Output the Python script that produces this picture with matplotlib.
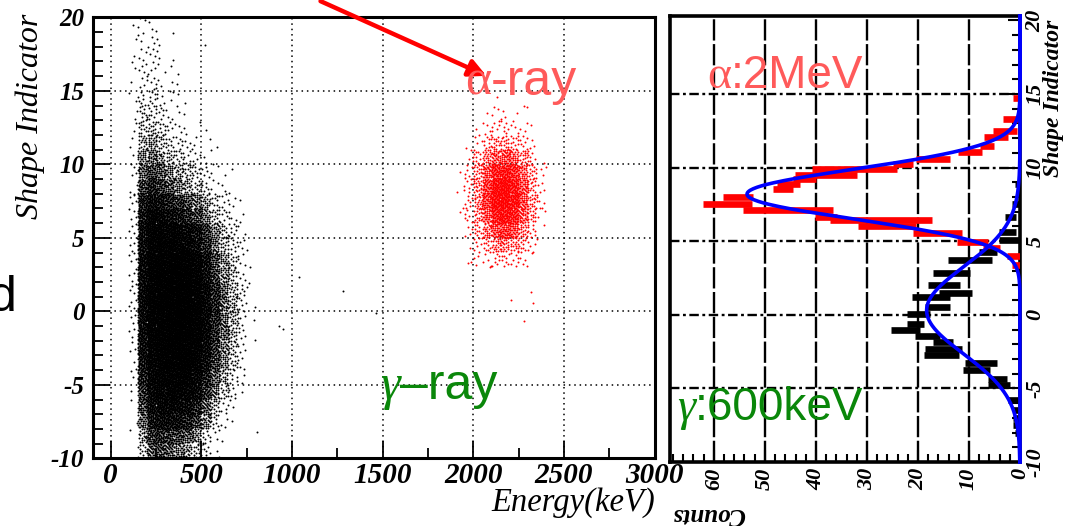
import numpy as np
import matplotlib
matplotlib.use("Agg")
import matplotlib.pyplot as plt
from matplotlib.patches import FancyArrowPatch
from matplotlib.ticker import MultipleLocator

# ---- scatter: event counts per (shape, energy) cell ----
# gamma band: energy columns of 50 keV from 100 to 800, shape rows of 1 from 20 down to -10
gamma_e_edges = list(range(100, 801, 50))
gamma_s_edges = list(range(20, -11, -1))
gamma_counts = [
    [1, 3, 2, 1, 0, 0, 0, 0, 0, 0, 0, 0, 0, 0],
    [1, 3, 2, 2, 1, 0, 0, 0, 0, 0, 0, 0, 0, 0],
    [1, 4, 4, 2, 1, 0, 0, 0, 0, 0, 0, 0, 0, 0],
    [2, 4, 4, 2, 1, 1, 0, 0, 0, 0, 0, 0, 0, 0],
    [1, 5, 5, 3, 2, 1, 0, 0, 0, 0, 0, 0, 0, 0],
    [2, 7, 7, 5, 2, 1, 1, 0, 0, 0, 0, 0, 0, 0],
    [2, 9, 10, 6, 3, 2, 1, 0, 0, 0, 0, 0, 0, 0],
    [2, 13, 15, 9, 5, 3, 2, 1, 1, 0, 0, 0, 0, 0],
    [2, 18, 22, 15, 10, 6, 4, 2, 1, 1, 0, 0, 0, 0],
    [3, 27, 33, 25, 15, 9, 6, 4, 2, 1, 0, 0, 0, 0],
    [3, 38, 50, 40, 28, 20, 14, 8, 5, 3, 1, 1, 0, 0],
    [3, 52, 70, 60, 42, 30, 21, 12, 7, 3, 2, 1, 0, 0],
    [4, 68, 95, 88, 72, 58, 45, 32, 20, 10, 5, 3, 1, 0],
    [4, 82, 125, 112, 98, 82, 65, 48, 30, 15, 7, 3, 2, 0],
    [4, 88, 135, 140, 135, 125, 110, 85, 55, 28, 14, 7, 2, 0],
    [4, 92, 145, 150, 145, 135, 120, 95, 65, 32, 16, 8, 3, 1],
    [4, 98, 148, 158, 162, 162, 152, 128, 88, 48, 24, 12, 4, 0],
    [4, 102, 152, 162, 168, 168, 158, 132, 92, 52, 26, 13, 4, 1],
    [4, 100, 150, 165, 170, 175, 170, 150, 110, 65, 35, 17, 6, 1],
    [4, 100, 150, 165, 170, 175, 170, 150, 110, 65, 35, 18, 6, 1],
    [3, 95, 145, 160, 170, 175, 170, 150, 110, 65, 35, 18, 5, 1],
    [3, 95, 145, 160, 170, 175, 170, 150, 110, 65, 35, 17, 5, 1],
    [3, 88, 138, 152, 162, 167, 162, 142, 98, 57, 29, 13, 4, 0],
    [2, 82, 132, 148, 158, 163, 158, 138, 92, 53, 26, 12, 4, 0],
    [2, 72, 122, 136, 146, 146, 136, 112, 72, 39, 17, 7, 2, 0],
    [1, 58, 108, 124, 134, 134, 124, 98, 58, 31, 13, 5, 1, 0],
    [1, 46, 92, 110, 116, 112, 96, 70, 38, 15, 5, 2, 0, 0],
    [1, 34, 78, 90, 94, 88, 74, 50, 27, 10, 3, 1, 0, 0],
    [1, 22, 54, 64, 60, 50, 38, 25, 9, 3, 1, 0, 0, 0],
    [0, 13, 36, 46, 40, 30, 22, 15, 6, 2, 0, 0, 0, 0],
]
gamma_out_e = [520, 1040, 1280, 930, 950, 1465, 805]
gamma_out_s = [18.1, 2.3, 1.4, -1.0, -1.2, -0.1, -8.2]

# alpha band: energy columns of 50 keV from 1900 to 2400, shape rows of 1 from 14 down to 3
alpha_e_edges = list(range(1900, 2401, 50))
alpha_s_edges = list(range(14, 2, -1))
alpha_counts = [
    [0, 0, 0, 1, 3, 3, 1, 1, 0, 0],
    [0, 0, 1, 4, 6, 6, 4, 3, 1, 0],
    [0, 1, 4, 10, 14, 15, 12, 7, 3, 0],
    [0, 3, 10, 22, 35, 39, 31, 17, 7, 1],
    [1, 6, 17, 39, 63, 70, 56, 31, 13, 3],
    [1, 7, 21, 49, 81, 91, 73, 39, 15, 4],
    [1, 7, 21, 49, 84, 95, 77, 42, 17, 4],
    [1, 6, 17, 39, 67, 77, 63, 35, 14, 3],
    [0, 4, 11, 25, 42, 49, 39, 21, 8, 1],
    [0, 1, 6, 11, 20, 22, 18, 10, 4, 1],
    [0, 1, 3, 4, 7, 8, 7, 4, 1, 0],
]
alpha_out_e = [1970, 2095, 2210, 2320, 2330, 2280, 2130, 2295]
alpha_out_s = [3.3, 3.1, 0.8, 1.3, 0.55, -0.65, 14.6, 13.9]

# ---- projections: each bar spans a count range at one shape value ----
alpha_bar_s = [14.75, 13.3, 12.5, 12.06, 11.5, 11.04, 10.6, 10.25, 9.9, 9.5,
               9.2, 8.9, 8.55, 8.03, 7.53, 7.12, 6.67, 6.44, 6.03, 5.58, 4.97,
               4.55, 4.0, 3.4]
alpha_lo = [0, 0.3, 0.65, 2.3, 5.0, 7.5, 13.7, 20.9, 24.2, 32.0, 39.9, 43.1,
            44.4, 52.3, 52.6, 36.6, 35.9, 17.3, 20.3, 11.4, 6.2, 3.9, 0, 0]
alpha_hi = [1.3, 3.3, 5.2, 7.0, 7.8, 12.1, 20.3, 24.9, 40.8, 44.1, 44.4, 47.7,
            48.4, 58.2, 62.1, 54.2, 40.2, 37.3, 31.7, 21.0, 12.4, 7.3, 2.5, 1.5]

gamma_bar_s = [8.9, 7.55, 6.65, 5.65, 5.1, 4.3, 3.7, 2.85, 2.0, 1.45, 1.2, 0.55,
               0.05, -0.65, -1.05, -1.45, -1.85, -2.3, -2.7, -3.3, -3.75, -4.35,
               -4.8, -5.8, -6.5, -7.0, -7.5, -8.0]
gamma_lo = [0, 0, 0.7, 0.7, 0, 4.5, 5.5, 9.8, 11.8, 9.5, 13.7, 13.7, 17.6, 18.9,
            19.6, 15.7, 13.1, 11.4, 12.0, 4.6, 5.9, 2.6, 2.0, 0, 0, 0, 0, 0]
gamma_hi = [0.9, 1.6, 2.9, 4.2, 4.2, 8.0, 14.2, 17.1, 18.0, 15.9, 21.2, 18.6,
            22.2, 22.2, 25.2, 20.6, 17.0, 18.6, 18.9, 10.8, 11.1, 6.2, 6.2, 2.3,
            1.3, 1.3, 1.3, 1.0]

# gaussian fit parameters: amplitude, mean, sigma
alpha_fit = (53.5, 8.2, 1.7)
gamma_fit = (18.3, 0.3, 2.95)


def spread_cells(counts, x_edges, y_edges):
    # lay each cell's events out evenly inside the cell (R2 low-discrepancy sequence)
    a1, a2 = 0.7548776662, 0.5698402910
    xs, ys = [], []
    start = 0
    for i, row in enumerate(counts):
        y0, y1 = y_edges[i], y_edges[i + 1]
        for j, n in enumerate(row):
            if n == 0:
                continue
            x0, x1 = x_edges[j], x_edges[j + 1]
            k = np.arange(start, start + n)
            start += n
            u = (0.5 + k * a1) % 1
            v = (0.5 + k * a2) % 1
            xs.append(x0 + u * (x1 - x0))
            ys.append(y0 + v * (y1 - y0))
    return np.concatenate(xs), np.concatenate(ys)


W, H = 1068, 526
fig = plt.figure(figsize=(W / 100, H / 100), dpi=100)
tickfont = {"family": "Liberation Serif", "weight": "bold", "style": "italic"}

# ---------------- scatter panel ----------------
ax = fig.add_axes([92.6 / W, 1 - 458.3 / H, (654.6 - 92.6) / W, (458.3 - 17.3) / H])
gx, gy = spread_cells(gamma_counts, gamma_e_edges, gamma_s_edges)
ax.scatter(gx, gy, s=2.0, c="black", linewidths=0, zorder=3)
ax.scatter(gamma_out_e, gamma_out_s, s=2.0, c="black", linewidths=0, zorder=3)
rx, ry = spread_cells(alpha_counts, alpha_e_edges, alpha_s_edges)
ax.scatter(rx, ry, s=2.0, c="#ff0000", linewidths=0, zorder=3)
ax.scatter(alpha_out_e, alpha_out_s, s=2.0, c="#ff0000", linewidths=0, zorder=3)

ax.set_xlim(-100, 3000)
ax.set_ylim(-10, 20)
ax.xaxis.set_minor_locator(MultipleLocator(250))
ax.yaxis.set_minor_locator(MultipleLocator(1))
ax.grid(True, which="major", color="black", linestyle=(0, (1, 2.5)), linewidth=1.1)
ax.tick_params(which="both", direction="in", width=1.3, color="black")
ax.tick_params(which="major", length=12)
ax.tick_params(which="minor", length=7)
ax.tick_params(axis="y", pad=6)
ax.tick_params(axis="x", pad=3)
for s in ax.spines.values():
    s.set_linewidth(2.2)
ax.set_xticks(range(0, 3001, 500))
ax.set_xticklabels([str(v) for v in range(0, 3001, 500)], fontdict=tickfont, fontsize=21)
ax.set_yticks(range(-10, 21, 5))
ax.set_yticklabels([str(v) for v in range(-10, 21, 5)], fontdict=tickfont, fontsize=18)

fig.text(30 / W, 1 - 14 / H, "Shape Indicator", rotation=90, ha="center", va="top",
         family="Liberation Serif", style="italic", fontsize=23)
fig.text(655 / W, 1 - 511 / H, "Energy(keV)", ha="right", va="baseline",
         family="Liberation Serif", style="italic", fontsize=23.5)

# ---------------- projection panel (rotated) ----------------
ax2 = fig.add_axes([670 / W, 1 - 462 / H, (1020 - 670) / W, (462 - 16) / H])
ax2.hlines(alpha_bar_s, alpha_lo, alpha_hi, color="#ff0000", linewidth=4.8, zorder=3)
ax2.hlines(gamma_bar_s, gamma_lo, gamma_hi, color="black", linewidth=4.8, zorder=3)

s_fine = np.linspace(-10, 20.3, 600)
for amp, mu, sig in (alpha_fit, gamma_fit):
    ax2.plot(amp * np.exp(-0.5 * ((s_fine - mu) / sig) ** 2), s_fine,
             color="#0000ff", linewidth=2.6, zorder=4, clip_on=False)

ax2.set_xlim(68.6, 0)
ax2.set_ylim(-10, 20.3)
ax2.yaxis.tick_right()
ax2.xaxis.set_minor_locator(MultipleLocator(2))
ax2.yaxis.set_minor_locator(MultipleLocator(1))
for v in range(10, 61, 10):
    ax2.axvline(v, color="black", linestyle=(0, (9, 1.5)), linewidth=1.7, zorder=1)
for v in range(-5, 16, 5):
    ax2.axhline(v, color="black", linestyle=(0, (4, 1.5, 1.2, 1.5)), linewidth=1.7, zorder=1)
ax2.tick_params(which="both", direction="in", width=1.5, color="black")
ax2.tick_params(which="major", length=9)
ax2.tick_params(which="minor", length=6)
for s in ax2.spines.values():
    s.set_linewidth(2.6)
ax2.set_xticks(range(0, 61, 10))
ax2.set_xticklabels([str(v) for v in range(0, 61, 10)], fontdict=tickfont,
                    fontsize=16, rotation=90)
ax2.set_yticks(range(-10, 21, 5))
ax2.set_yticklabels([str(v) for v in range(-10, 21, 5)], fontdict=tickfont,
                    fontsize=16, rotation=90, va="center")
ax2.tick_params(axis="x", pad=4)
ax2.tick_params(axis="y", pad=4)

fig.text(1054 / W, 1 - 20 / H, "Shape Indicator", rotation=90, ha="center", va="top",
         family="Liberation Serif", style="italic", weight="bold", fontsize=17)
fig.text(708 / W, 1 - 514 / H, "Counts", rotation=180, ha="center", va="center",
         family="Liberation Serif", style="italic", weight="bold", fontsize=18)

# stray letter at the left edge and the pointer arrow
fig.text(17 / W, 1 - 298 / H, "d", ha="right", va="center", fontsize=36,
         family="Liberation Sans", color="black")
arrow = FancyArrowPatch((318 / W, 1.0), (489 / W, 1 - 77 / H),
                        transform=fig.transFigure, arrowstyle="-|>",
                        mutation_scale=26, linewidth=3.2, color="#ff0000")
fig.add_artist(arrow)


def label(x_px, base_px, greek, rest, color, size, greek_style="normal"):
    # serif greek letter followed by sans text on a shared baseline
    t = fig.text(x_px / W, 1 - base_px / H, greek, color=color, fontsize=size,
                 family="Liberation Serif", style=greek_style, ha="left",
                 va="baseline", zorder=6)
    fig.canvas.draw()
    bb = t.get_window_extent()
    fig.text(bb.x1 / W, 1 - base_px / H, rest, color=color, fontsize=size,
             family="Liberation Sans", ha="left", va="baseline", zorder=6)


salmon, green = "#ff5a5a", "#0a870a"
label(465, 95, "\u03b1", "-ray", salmon, 36)
label(380, 399, "\u03b3", "\u2013ray", green, 36, "italic")
label(707, 88, "\u03b1", ":2MeV", salmon, 33)
label(677, 420, "\u03b3", ":600keV", green, 33, "italic")

fig.savefig("out.png", dpi=100)
